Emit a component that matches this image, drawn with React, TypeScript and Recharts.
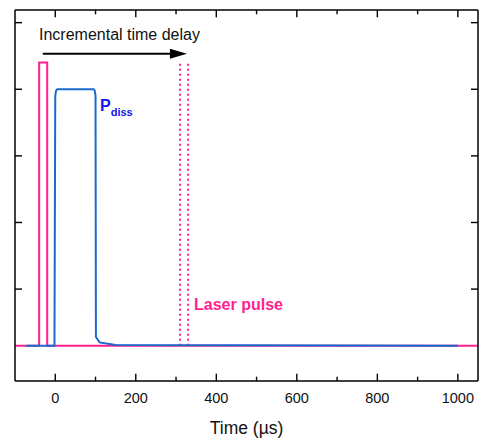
import { ComposedChart, Line, XAxis, YAxis, ReferenceLine } from 'recharts';

const FONT = '"Liberation Sans", Arial, Helvetica, sans-serif';
const PINK = '#ff1f8e';
const BLUE = '#1a6acd';

// x ticks (µs), labelled every 200
const xTicks = [0, 100, 200, 300, 400, 500, 600, 700, 800, 900, 1000];
const yTicks = [0, 1, 2, 3, 4];
const xDomain = [-100, 1050];
const yDomain = [-1.38, 4.19];

// trigger pulse before t = 0
const triggerTime = [-100, -40, -40, -20, -20, 1050];
const triggerLevel = [-0.85, -0.85, 3.4, 3.4, -0.85, -0.85];

// dissipated power pulse
const pdissTime = [-72, -2, 0, 2, 5, 95, 98, 100, 101, 110, 150, 1000];
const pdissLevel = [-0.85, -0.85, 2.9, 2.98, 3.0, 3.0, 2.98, 2.9, -0.72, -0.8, -0.84, -0.85];

// delayed laser pulses (dotted)
const laserTimes = [310, 330];
const laserTop = 3.4;
const baseLevel = -0.85;

// arrow for "incremental time delay"
const arrowStart = -31;
const arrowEnd = 327;
const arrowLevel = 3.535;

const triggerData = triggerTime.map((t, i) => ({ t, v: triggerLevel[i] }));
const pdissData = pdissTime.map((t, i) => ({ t, v: pdissLevel[i] }));
const laserData = laserTimes.map((t) => [
  { t, v: baseLevel },
  { t, v: laserTop },
]);

// inward x tick marks, length in y units (~7px major, ~4px minor)
const tickLen = (v: number) => (v % 200 === 0 ? 0.11 : 0.065);
const bottomTickData = xTicks.map((v) => [
  { t: v, v: yDomain[0] },
  { t: v, v: yDomain[0] + tickLen(v) },
]);
const topTickData = xTicks.map((v) => [
  { t: v, v: yDomain[1] },
  { t: v, v: yDomain[1] - tickLen(v) },
]);

const BottomTick = (props: any) => {
  const { x, y, payload } = props;
  if (payload.value % 200 !== 0) return <g />;
  return (
    <text x={x} y={y + 22} textAnchor="middle" fontSize={14.5} fontFamily={FONT} fill="#111">
      {payload.value}
    </text>
  );
};

const LeftTick = (props: any) => {
  const { x, y } = props;
  return <rect x={x} y={y - 0.7} width={7} height={1.4} fill="#000" />;
};

const RightTick = (props: any) => {
  const { x, y } = props;
  return <rect x={x - 7} y={y - 0.7} width={7} height={1.4} fill="#000" />;
};

const Arrow = (props: any) => {
  const { x1, y1, x2, y2 } = props;
  if (x1 == null) return null;
  return (
    <g>
      <line x1={x1} y1={y1} x2={x2 - 14} y2={y2} stroke="#000" strokeWidth={2} />
      <polygon points={`${x2},${y2} ${x2 - 17},${y2 - 5} ${x2 - 17},${y2 + 5}`} fill="#000" />
    </g>
  );
};

export default function App() {
  return (
    <div style={{ position: 'absolute', left: 0, top: 0 }}>
      <ComposedChart width={482} height={439} margin={{ top: 9, right: 3, bottom: 0, left: 14 }}>
        <XAxis
          dataKey="t"
          type="number"
          domain={xDomain}
          ticks={xTicks}
          height={58}
          tickLine={false}
          tickSize={0}
          tickMargin={0}
          tick={<BottomTick />}
          axisLine={{ stroke: '#000', strokeWidth: 1.5 }}
        />
        <XAxis
          xAxisId="top"
          orientation="top"
          dataKey="t"
          type="number"
          domain={xDomain}
          ticks={xTicks}
          height={1}
          tickLine={false}
          tick={false}
          axisLine={{ stroke: '#000', strokeWidth: 1.5 }}
        />
        <YAxis
          type="number"
          domain={yDomain}
          ticks={yTicks}
          width={1}
          tickLine={false}
          tickSize={0}
          tickMargin={0}
          tick={<LeftTick />}
          axisLine={{ stroke: '#000', strokeWidth: 1.5 }}
        />
        <YAxis
          yAxisId="right"
          orientation="right"
          type="number"
          domain={yDomain}
          ticks={yTicks}
          width={1}
          tickLine={false}
          tickSize={0}
          tickMargin={0}
          tick={<RightTick />}
          axisLine={{ stroke: '#000', strokeWidth: 1.5 }}
        />
        {bottomTickData.map((td, i) => (
          <Line
            key={`b${i}`}
            data={td}
            dataKey="v"
            type="linear"
            stroke="#000"
            strokeWidth={1.4}
            dot={false}
            legendType="none"
            isAnimationActive={false}
          />
        ))}
        {topTickData.map((td, i) => (
          <Line
            key={`t${i}`}
            data={td}
            dataKey="v"
            xAxisId="top"
            yAxisId="right"
            type="linear"
            stroke="#000"
            strokeWidth={1.4}
            dot={false}
            legendType="none"
            isAnimationActive={false}
          />
        ))}
        {laserData.map((ld, i) => (
          <Line
            key={i}
            data={ld}
            dataKey="v"
            xAxisId="top"
            yAxisId="right"
            type="linear"
            stroke={PINK}
            strokeWidth={2}
            strokeDasharray="2 3"
            dot={false}
            isAnimationActive={false}
          />
        ))}
        <Line
          data={triggerData}
          dataKey="v"
          type="linear"
          stroke={PINK}
          strokeWidth={2}
          dot={false}
          isAnimationActive={false}
        />
        <Line
          data={pdissData}
          dataKey="v"
          type="linear"
          stroke={BLUE}
          strokeWidth={2}
          dot={false}
          isAnimationActive={false}
        />
        <ReferenceLine
          segment={[{ x: arrowStart, y: arrowLevel }, { x: arrowEnd, y: arrowLevel }]}
          shape={<Arrow />}
        />
        <text x={39} y={40} fontSize={16} fontFamily={FONT} fill="#111">
          Incremental time delay
        </text>
        <text x={100} y={111} fontSize={16} fontWeight="bold" fontFamily={FONT} fill="#1515f0">
          P
          <tspan fontSize={11} dy={5}>diss</tspan>
        </text>
        <text x={194} y={310} fontSize={16} fontWeight="bold" fontFamily={FONT} fill={PINK}>
          Laser pulse
        </text>
        <text x={246.5} y={434} textAnchor="middle" fontSize={17.5} fontFamily={FONT} fill="#111">
          Time (µs)
        </text>
      </ComposedChart>
    </div>
  );
}
